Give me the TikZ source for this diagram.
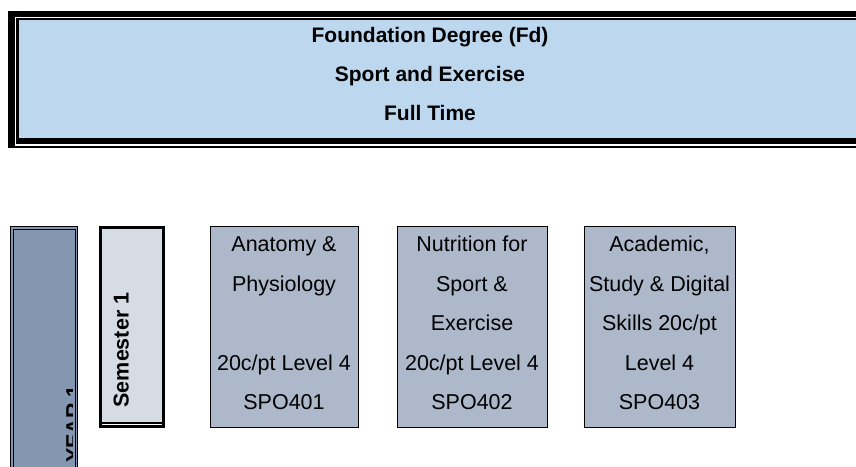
\documentclass[tikz,border=0pt]{standalone}
\usepackage{fontspec}
\setmainfont{Liberation Sans}
\definecolor{hdrblue}{HTML}{BDD7EE}
\definecolor{yearfill}{HTML}{8497B0}
\definecolor{semfill}{HTML}{D6DCE4}
\definecolor{modfill}{HTML}{ADB9CA}
\tikzset{
  hdrtxt/.style={font=\fontsize{21}{24}\selectfont\bfseries, anchor=base, inner sep=0pt},
  modtxt/.style={font=\fontsize{21.5}{25}\selectfont, anchor=base, inner sep=0pt},
  modbox/.style={draw=black, line width=1pt, fill=modfill, rectangle, inner sep=0pt},
  vtxt/.style={rotate=90, inner sep=0pt, font=\fontsize{21.5}{25}\selectfont\bfseries},
}
\begin{document}
\begin{tikzpicture}[x=1pt,y=-1pt]
\clip (0,0) rectangle (856,466);
\fill[white] (0,0) rectangle (856,466);
% header frame
\fill[black] (8,11) rectangle (880,148);
\draw[white, line width=1.1pt] (15.3,17.8) rectangle (890,145);
\fill[hdrblue] (18.5,20) rectangle (890,137.7);
\node[hdrtxt] (h1) at (430,42.5) {Foundation Degree (Fd)};
\node[hdrtxt] (h2) at (430,81) {Sport and Exercise};
\node[hdrtxt] (h3) at (430,120) {Full Time};
% year box
\fill[yearfill] (10,226) rectangle (78,480);
\draw[black, line width=1pt] (10.5,226.5) rectangle (77.5,490);
\draw[black, line width=1pt] (13,229) rectangle (75,490);
\begin{scope}
\clip (13.5,229.5) rectangle (72.5,480);
\node[vtxt, anchor=base west] (yr) at (81,463) {YEAR 1};
\end{scope}
% semester box
\fill[black] (99,226) rectangle (164.5,428);
\fill[semfill] (102,229) rectangle (161.5,422);
\draw[white, line width=1pt] (102,424.5) -- (161.5,424.5);
\node[vtxt, anchor=base] (sem) at (128.5,350) {Semester 1};
% module boxes
\node[modbox, minimum width=148pt, minimum height=201pt] (m1) at (284,326.5) {};
\node[modbox, minimum width=150pt, minimum height=201pt] (m2) at (472,326.5) {};
\node[modbox, minimum width=151pt, minimum height=201pt] (m3) at (659.5,326.5) {};
% module texts
\node[modtxt] (m1a) at (284,251.5) {Anatomy \&};
\node[modtxt] (m1b) at (284,291) {Physiology};
\node[modtxt] (m1d) at (284,370.5) {20c/pt Level 4};
\node[modtxt] (m1e) at (284,409.5) {SPO401};
\node[modtxt] (m2a) at (472,251.5) {Nutrition for};
\node[modtxt] (m2b) at (472,291) {Sport \&};
\node[modtxt] (m2c) at (472,330.5) {Exercise};
\node[modtxt] (m2d) at (472,370.5) {20c/pt Level 4};
\node[modtxt] (m2e) at (472,409.5) {SPO402};
\node[modtxt] (m3a) at (659.5,251.5) {Academic,};
\node[modtxt] (m3b) at (659.5,291) {Study \& Digital};
\node[modtxt] (m3c) at (659.5,330.5) {Skills 20c/pt};
\node[modtxt] (m3d) at (659.5,370.5) {Level 4};
\node[modtxt] (m3e) at (659.5,409.5) {SPO403};
\end{tikzpicture}
\end{document}
